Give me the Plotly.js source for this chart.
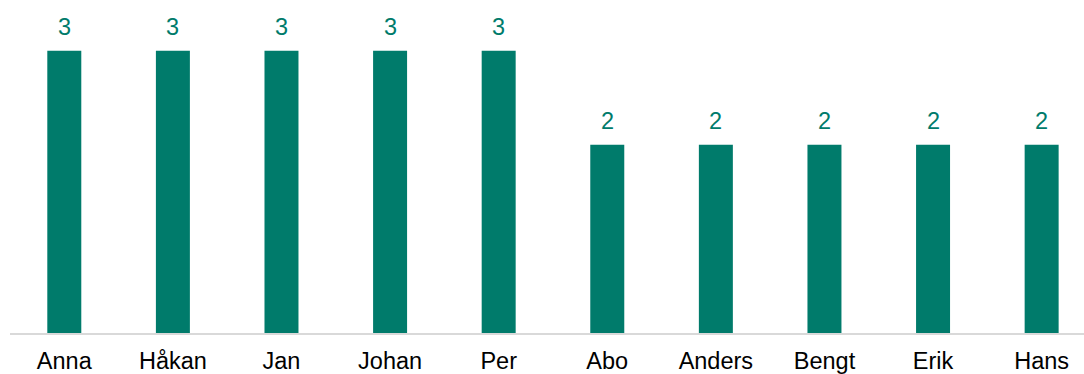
<!DOCTYPE html>
<html><head><meta charset="utf-8">
<script src="https://cdn.plot.ly/plotly-3.0.1.min.js"></script>
<style>html,body{margin:0;padding:0;overflow:hidden;background:#fff}</style>
</head><body>
<div id="chart" style="width:1084px;height:374px"></div>
<script>
const names = ["Anna","Håkan","Jan","Johan","Per","Abo","Anders","Bengt","Erik","Hans"];
const counts = [3,3,3,3,3,2,2,2,2,2];

const teal = "#007b6b";
const font = "Liberation Sans, Arial, sans-serif";

const trace = {
  type: "bar",
  x: names,
  y: counts,
  marker: {color: teal},
  hoverinfo: "skip"
};

const annotations = names.map((n, i) => ({
  x: n, y: counts[i], xref: "x", yref: "y",
  text: String(counts[i]), showarrow: false,
  yanchor: "bottom", yshift: 9,
  font: {family: font, size: 23.5, color: teal}
}));

const layout = {
  width: 1084, height: 374,
  margin: {l: 10, r: 0, t: 0, b: 41, pad: 0},
  paper_bgcolor: "#fff", plot_bgcolor: "#fff",
  bargap: 0.687,
  showlegend: false,
  xaxis: {
    type: "category",
    range: [-0.5, 9.39],
    showgrid: false, zeroline: false,
    showline: true, linecolor: "#d9d9d9", linewidth: 1.5,
    ticks: "outside", ticklen: 6, tickcolor: "rgba(0,0,0,0)",
    tickfont: {family: font, size: 23.5, color: "#000"}
  },
  yaxis: {
    range: [0, 3.54],
    showgrid: false, zeroline: false, showline: false,
    showticklabels: false, ticks: ""
  },
  annotations: annotations
};

Plotly.newPlot("chart", [trace], layout, {staticPlot: true, displayModeBar: false});
</script>
</body></html>
